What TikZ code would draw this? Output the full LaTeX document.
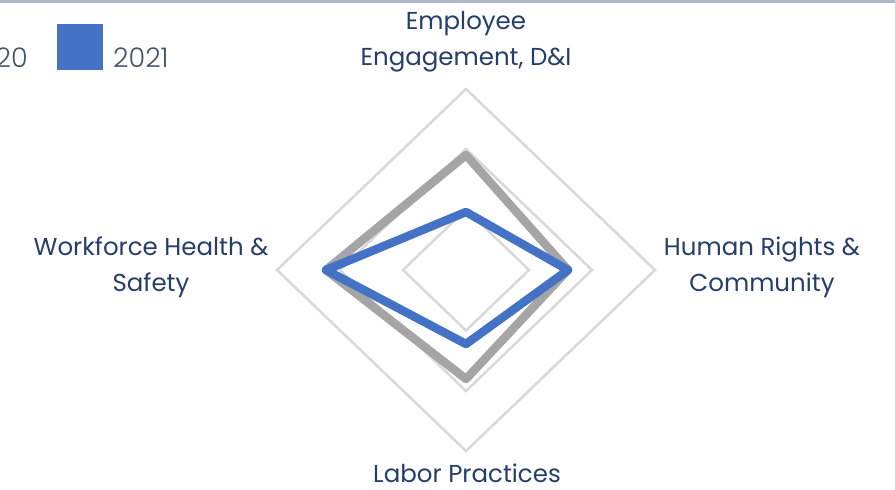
\documentclass[tikz,border=0pt]{standalone}
\usepackage{fontspec}
\setmainfont{Poppins}
\newfontfamily\poplight{Poppins Light}
\definecolor{gridgray}{HTML}{D9D9D9}
\definecolor{sergray}{HTML}{A5A5A5}
\definecolor{serblue}{HTML}{4472C4}
\definecolor{labelnavy}{HTML}{263E69}
\definecolor{legnavy}{HTML}{44546A}
\definecolor{topline}{HTML}{ADB9CA}
\begin{document}
\begin{tikzpicture}[x=1pt,y=-1pt,
  gridring/.style={draw=gridgray, line width=2.5pt, line join=miter},
  ser20/.style={draw=sergray, line width=8.5pt, line join=round},
  ser21/.style={draw=serblue, line width=8.5pt, line join=round},
  axlabel/.style={text=labelnavy, font=\fontsize{24.5}{36}\selectfont, align=center, inner sep=0pt},
  legtext/.style={text=legnavy, font=\poplight\fontsize{27}{36}\selectfont, inner sep=0pt},
  legbox/.style={fill=serblue, draw=none, minimum width=46pt, minimum height=46pt, inner sep=0pt}]
\useasboundingbox (0,0) rectangle (895,490);
\clip (0,0) rectangle (895,490);
\fill[white] (0,0) rectangle (895,490);
\draw[draw=topline, line width=3pt] (0,1.5) -- (895,1.5);
% grid rings
\foreach \h/\v in {63/60.5, 126/121, 189/181}{
  \draw[gridring] (466,270-\v) -- (466+\h,270) -- (466,270+\v) -- (466-\h,270) -- cycle;
}
% series 2020
\coordinate (g1) at (466,155);
\coordinate (g2) at (568,270);
\coordinate (g3) at (466,379);
\coordinate (g4) at (326,270);
\draw[ser20] (g1) -- (g2) -- (g3) -- (g4) -- cycle;
% series 2021
\coordinate (b1) at (466,212);
\coordinate (b2) at (568,270);
\coordinate (b3) at (466,344);
\coordinate (b4) at (326,270);
\draw[ser21] (b1) -- (b2) -- (b3) -- (b4) -- cycle;
% axis labels
\node[axlabel] (ltop) at (466,42) {Employee\\Engagement, D\&I};
\node[axlabel] (lright) at (762,267) {Human Rights \&\\Community};
\node[axlabel] (lbottom) at (467,473) {Labor Practices};
\node[axlabel] (lleft) at (151,267) {Workforce Health \&\\Safety};
% legend
\node[legtext, anchor=east] (t20) at (28,57.5) {2020};
\node[legbox] (k21) at (80,47) {};
\node[legtext, anchor=west] (t21) at (113,57.5) {2021};
\end{tikzpicture}
\end{document}
